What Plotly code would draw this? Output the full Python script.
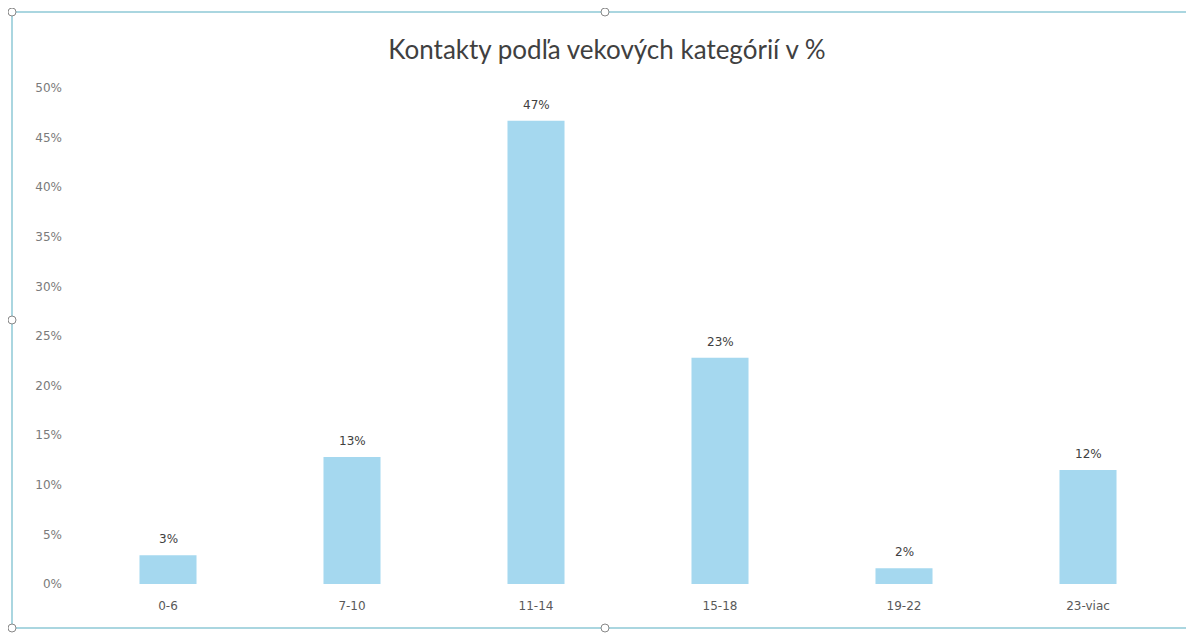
import plotly.graph_objects as go

categories = ["0-6", "7-10", "11-14", "15-18", "19-22", "23-viac"]
values = [2.9, 12.8, 46.7, 22.8, 1.6, 11.5]
y_ticks = [0, 5, 10, 15, 20, 25, 30, 35, 40, 45, 50]
y_tick_labels = [f"{v}%" for v in y_ticks]
title_text = "Kontakty podľa vekových kategórií v %"

# page body has an 8px margin, so figure coords are shifted by OFF
OFF = 8
W, H = 1194, 633
L, R, T, B = 76 - OFF, 14 + OFF, 88 - OFF, 49 + OFF
pw, ph = W - L - R, H - T - B

def px_x(x):
    return (x - OFF - L) / pw

def px_y(y):
    return (H - B - (y - OFF)) / ph

fig = go.Figure()
fig.add_trace(go.Bar(
    x=categories, y=values,
    marker=dict(color="#a5d8ef", line=dict(width=0)),
    hoverinfo="x+y",
))

for c, v in zip(categories, values):
    fig.add_annotation(x=c, y=v, text=f"{v:.0f}%", showarrow=False,
                       yanchor="bottom", yshift=7,
                       font=dict(family="DejaVu Sans", size=12, color="#404040"))

frame_color = "#8ec9d6"
shapes = [dict(type="rect", xref="paper", yref="paper",
               x0=px_x(12), x1=px_x(1190), y0=px_y(628), y1=px_y(12),
               line=dict(color=frame_color, width=1.5), layer="below")]
r = 4
for (cx, cy) in [(12, 12), (605, 12), (12, 320), (12, 628), (605, 628)]:
    shapes.append(dict(type="circle", xref="paper", yref="paper",
                       x0=px_x(cx - r), x1=px_x(cx + r),
                       y0=px_y(cy + r), y1=px_y(cy - r),
                       fillcolor="white", line=dict(color="#888888", width=1)))

fig.update_layout(
    width=W, height=H,
    margin=dict(l=L, r=R, t=T, b=B),
    paper_bgcolor="white", plot_bgcolor="white",
    bargap=0.69,
    showlegend=False,
    shapes=shapes,
    title=dict(text=title_text, x=px_x(607), xref="paper", xanchor="center",
               y=1 - (50 - OFF) / H, yanchor="middle",
               font=dict(family="Lato", size=26, color="#404040")),
    xaxis=dict(showgrid=False, showline=False, zeroline=False, ticks="",
               tickfont=dict(family="DejaVu Sans", size=12, color="#595959"),
               ticklabelstandoff=13),
    yaxis=dict(range=[0, 50], tickvals=y_ticks, ticktext=y_tick_labels,
               showgrid=False, zeroline=False, showline=False, ticks="",
               tickfont=dict(family="DejaVu Sans", size=12, color="#7a7a7a"),
               ticklabelstandoff=13),
)

fig.write_html("out.html")
